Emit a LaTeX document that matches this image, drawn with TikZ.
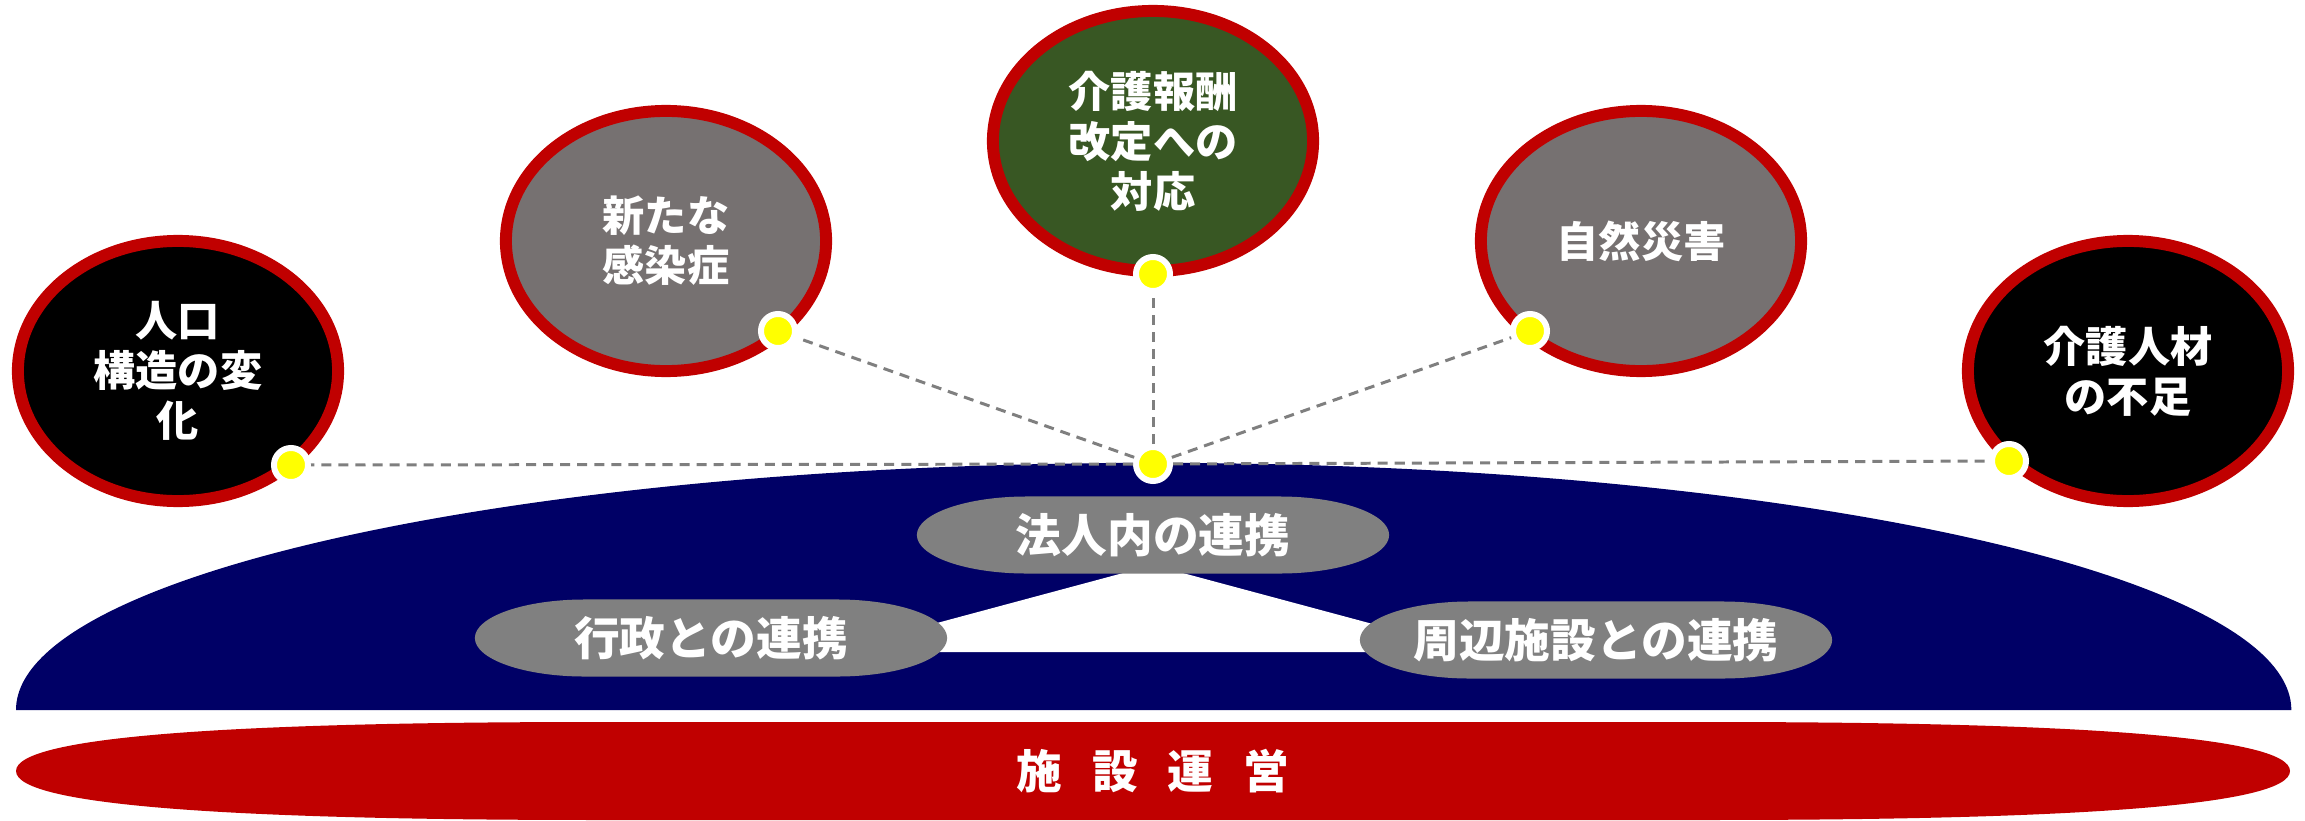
\documentclass[tikz,border=0pt]{standalone}
\usepackage{fontspec}
\newfontfamily\jp{Noto Sans CJK JP}
\usetikzlibrary{shapes.geometric}
\definecolor{bordred}{HTML}{C00000}
\definecolor{navyblue}{HTML}{000066}
\definecolor{darkgreen}{HTML}{385723}
\definecolor{warmgray}{HTML}{767171}
\definecolor{pillgray}{HTML}{808080}
\definecolor{dotyellow}{HTML}{FFFF00}
\definecolor{linkgray}{HTML}{7F7F7F}
\begin{document}
\begin{tikzpicture}[x=0.01cm,y=-0.01cm,
  issue/.style={ellipse, draw=bordred, line width=3.4pt, minimum width=3.2cm, minimum height=2.6cm,
    inner sep=0pt, text=white, align=center, font=\jp\bfseries\fontsize{12pt}{14.2pt}\selectfont},
  dotmark/.style={circle, fill=dotyellow, draw=white, line width=1.7pt, minimum size=0.34cm, inner sep=0pt},
  link/.style={draw=linkgray, dash pattern=on 2.85pt off 2pt, line width=0.85pt},
  pill/.style={rectangle, minimum width=4.72cm, minimum height=0.77cm, inner sep=0pt, text=white,
    font=\jp\bfseries\fontsize{13pt}{15pt}\selectfont,
    path picture={\fill[pillgray] ([xshift=1.1cm]path picture bounding box.north west)
      -- ([xshift=-1.1cm]path picture bounding box.north east)
      arc[start angle=90, end angle=-90, x radius=1.1cm, y radius=0.385cm]
      -- ([xshift=1.1cm]path picture bounding box.south west)
      arc[start angle=270, end angle=90, x radius=1.1cm, y radius=0.385cm] -- cycle;}},
  basetext/.style={text=white, font=\jp\bfseries\fontsize{13pt}{15pt}\selectfont}
]
\useasboundingbox (0,0) rectangle (2305,821);

% blue dome
\fill[navyblue] (16,710) arc[start angle=180, end angle=0, x radius=11.37cm, y radius=2.47cm] -- cycle;
% white triangle
\fill[white] (1153,565) -- (829,652) -- (1477,652) -- cycle;

% pills
\node[pill] (houjin) at (1153,535) {法人内の連携};
\node[pill] (gyousei) at (711,638) {行政との連携};
\node[pill] (shuhen) at (1596,640) {周辺施設との連携};

% red base
\fill[bordred] (16,771) .. controls (16,735) and (250,722) .. (600,722) -- (1706,722)
  .. controls (2056,722) and (2290,735) .. (2290,771)
  .. controls (2290,807) and (2056,820) .. (1706,820) -- (600,820)
  .. controls (250,820) and (16,807) .. (16,771) -- cycle;
\node[basetext] (unei) at (1153,771) {施\hspace{8.5pt}設\hspace{8.5pt}運\hspace{8.5pt}営};

% issue ellipses
\node[issue, fill=black] (e1) at (178,371) {人口\\構造の変\\化};
\node[issue, fill=warmgray] (e2) at (666,241) {新たな\\感染症};
\node[issue, fill=darkgreen] (e3) at (1153,141) {介護報酬\\改定への\\対応};
\node[issue, fill=warmgray] (e4) at (1641,241) {自然災害};
\node[issue, fill=black] (e5) at (2128,371) {介護人材\\の不足};

% dots
\node[dotmark] (d1) at (291,465) {};
\node[dotmark] (d2) at (778,331) {};
\node[dotmark] (d3) at (1153,274) {};
\node[dotmark] (d4) at (1530,331) {};
\node[dotmark] (d5) at (2009,461) {};
\node[dotmark] (dc) at (1153,464) {};

% dashed links
\draw[link] (dc) -- (d1);
\draw[link] (dc) -- (d2);
\draw[link] (dc) -- (d3);
\draw[link] (dc) -- (d4);
\draw[link] (dc) -- (d5);
\end{tikzpicture}
\end{document}
